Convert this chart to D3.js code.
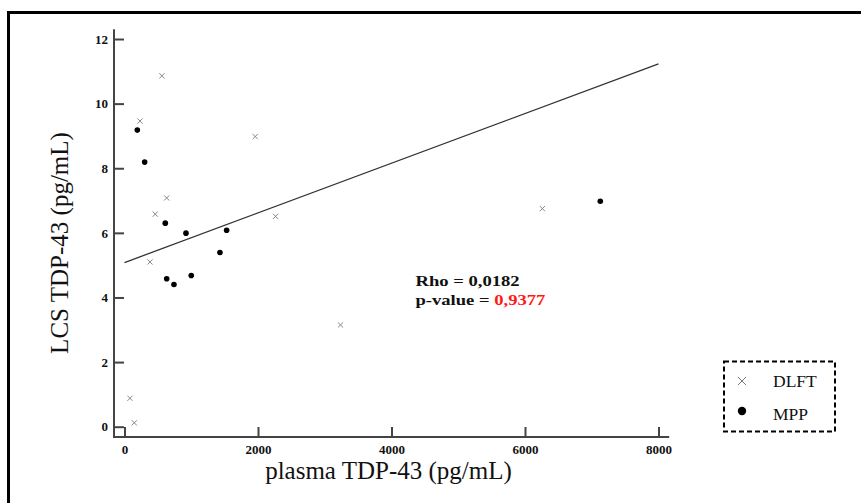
<!DOCTYPE html>
<html>
<head>
<meta charset="utf-8">
<script src="https://cdn.jsdelivr.net/npm/d3@7/dist/d3.min.js"></script>
<style>
  html, body { margin: 0; padding: 0; background: #fff; }
  svg { display: block; }
</style>
</head>
<body>
<svg id="chart" width="861" height="503"></svg>
<script>
// ---- data ----
const dlftX = [232, 561, 1958, 632, 461, 2263, 382, 82, 147, 3236, 6260];
const dlftY = [9.46, 10.86, 8.98, 7.08, 6.58, 6.51, 5.10, 0.88, 0.12, 3.15, 6.75];
const mppX = [192, 302, 611, 921, 1530, 1430, 632, 741, 1000, 7128];
const mppY = [9.18, 8.19, 6.30, 5.99, 6.08, 5.39, 4.58, 4.40, 4.68, 6.98];
const trendX = [0, 8000];
const trendY = [5.08, 11.23];
const xTicks = [0, 2000, 4000, 6000, 8000];
const yTicks = [0, 2, 4, 6, 8, 10, 12];
const seriesNames = ["DLFT", "MPP"];
const statLines = ["Rho = 0,0182", "p-value = ", "0,9377"];
const xTitle = "plasma TDP-43 (pg/mL)";
const yTitle = "LCS TDP-43 (pg/mL)";

const svg = d3.select("#chart");
const serif = "'Liberation Serif', 'Times New Roman', serif";

// outer frame (right/bottom run off the canvas)
svg.append("rect").attr("x", 8.5).attr("y", 12.5).attr("width", 900).attr("height", 600)
  .attr("fill", "none").attr("stroke", "#000").attr("stroke-width", 3);

const x = d3.scaleLinear().domain([0, 8000]).range([124.5, 658.5]);
const y = d3.scaleLinear().domain([0, 12]).range([426.7, 39]);

const axisX = 114;   // position of y axis line
const axisY = 437;   // position of x axis line
const axisColor = "#444";

// y axis
const gy = svg.append("g").attr("transform", `translate(${axisX},0)`)
  .call(d3.axisLeft(y).tickValues(yTicks).tickSizeInner(-10).tickSizeOuter(0).tickPadding(6));
gy.select(".domain").remove();
gy.selectAll(".tick line").attr("stroke", axisColor).attr("stroke-width", 2);
gy.selectAll(".tick text").attr("font-family", serif).attr("font-size", 13)
  .attr("font-weight", "bold").attr("fill", "#111");
svg.append("line").attr("x1", axisX).attr("x2", axisX)
  .attr("y1", y(12.3)).attr("y2", axisY + 1)
  .attr("stroke", axisColor).attr("stroke-width", 2);

// x axis
const gx = svg.append("g").attr("transform", `translate(0,${axisY})`)
  .call(d3.axisBottom(x).tickValues(xTicks).tickFormat(d3.format("d")).tickSizeInner(-10).tickSizeOuter(0).tickPadding(8));
gx.select(".domain").remove();
gx.selectAll(".tick line").attr("stroke", axisColor).attr("stroke-width", 2);
gx.selectAll(".tick text").attr("font-family", serif).attr("font-size", 13)
  .attr("font-weight", "bold").attr("fill", "#111");
svg.append("line").attr("x1", axisX - 1).attr("x2", x(8160))
  .attr("y1", axisY).attr("y2", axisY)
  .attr("stroke", axisColor).attr("stroke-width", 2);

// axis titles
svg.append("text").attr("transform", `translate(68,243) rotate(-90)`)
  .attr("text-anchor", "middle").attr("font-family", serif).attr("font-size", 25)
  .attr("fill", "#111").text(yTitle);
svg.append("text").attr("x", 388.5).attr("y", 479)
  .attr("text-anchor", "middle").attr("font-family", serif).attr("font-size", 25)
  .attr("fill", "#111").text(xTitle);

// trend line
svg.append("line")
  .attr("x1", x(trendX[0])).attr("y1", y(trendY[0]))
  .attr("x2", x(trendX[1])).attr("y2", y(trendY[1]))
  .attr("stroke", "#333").attr("stroke-width", 1.3);

// crosses
const crossPath = s => `M${-s},${-s}L${s},${s}M${-s},${s}L${s},${-s}`;
const dlft = dlftX.map((v, i) => [v, dlftY[i]]);
const mpp = mppX.map((v, i) => [v, mppY[i]]);
svg.append("g").selectAll("path").data(dlft).join("path")
  .attr("transform", d => `translate(${x(d[0])},${y(d[1])})`)
  .attr("d", crossPath(2.6)).attr("stroke", "#888").attr("stroke-width", 1).attr("fill", "none");
svg.append("g").selectAll("circle").data(mpp).join("circle")
  .attr("cx", d => x(d[0])).attr("cy", d => y(d[1])).attr("r", 2.8).attr("fill", "#000");

// stats text
const st = svg.append("g").attr("transform", "translate(415.5,0) scale(1.2,1)")
  .attr("font-family", serif).attr("font-weight", "bold").attr("font-size", 15.5);
st.append("text").attr("x", 0).attr("y", 286).attr("fill", "#111").text(statLines[0]);
const t2 = st.append("text").attr("x", 0).attr("y", 305).attr("fill", "#111");
t2.append("tspan").text(statLines[1]);
t2.append("tspan").attr("fill", "#ff1a1a").text(statLines[2]);

// legend
svg.append("rect").attr("x", 724).attr("y", 361.5).attr("width", 111).attr("height", 70)
  .attr("fill", "none").attr("stroke", "#000").attr("stroke-width", 2).attr("stroke-dasharray", "5,3");
const lg = svg.append("g");
lg.append("path").attr("transform", "translate(742,381)").attr("d", crossPath(4))
  .attr("stroke", "#777").attr("stroke-width", 1).attr("fill", "none");
lg.append("circle").attr("cx", 742).attr("cy", 411).attr("r", 4.2).attr("fill", "#000");
lg.append("text").attr("x", 773).attr("y", 387).attr("font-family", serif).attr("font-size", 17.5)
  .attr("fill", "#111").text(seriesNames[0]);
lg.append("text").attr("x", 773).attr("y", 420).attr("font-family", serif).attr("font-size", 17.5)
  .attr("fill", "#111").text(seriesNames[1]);
</script>
</body>
</html>
